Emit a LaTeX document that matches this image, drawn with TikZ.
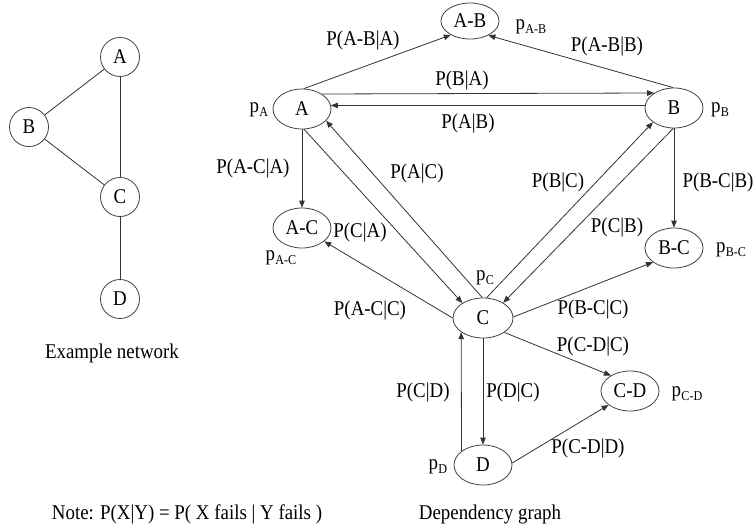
\documentclass[tikz,border=0pt]{standalone}
\usepackage{fontspec}
\setmainfont{Liberation Serif}[FakeStretch=0.9]
\usetikzlibrary{shapes.geometric,arrows.meta}
% probability of failure of an element: p with a small subscript
\newcommand\pfail[1]{p\kern0.3pt\raisebox{-0.35ex}{\fontsize{13.5}{14}\selectfont #1}}
\begin{document}
\begin{tikzpicture}[x=1pt,y=-1pt,
  font=\fontsize{21}{24}\selectfont,
  link/.style={draw=black!80,line width=0.8pt},
  netnode/.style={circle,draw=black!75,line width=0.8pt,minimum size=39pt,inner sep=0pt},
  depnode/.style={ellipse,draw=black!75,line width=0.8pt,minimum width=58pt,minimum height=40pt,inner sep=0pt},
  arr/.style={link,-{Triangle[length=7pt,width=5.5pt]}},
  lbl/.style={inner sep=0pt,text=black}]
\useasboundingbox (0,0) rectangle (756,528);

% example network
\node[netnode] (nA) at (120,57) {A};
\node[netnode] (nB) at (29,127) {B};
\node[netnode] (nC) at (120,197) {C};
\node[netnode] (nD) at (120,299) {D};
\draw[link] (nA) -- (nB);
\draw[link] (nB) -- (nC);
\draw[link] (nA) -- (nC);
\draw[link] (nC) -- (nD);
\node[lbl] (cap1) at (112,353) {Example network};

% dependency graph
\node[depnode] (A) at (302,109) {A};
\node[depnode] (B) at (674,108) {B};
\node[depnode,minimum height=36pt] (AB) at (470,21) {A-B};
\node[depnode] (AC) at (302,228) {A-C};
\node[depnode] (BC) at (674,248) {B-C};
\node[depnode,minimum width=60pt] (C) at (483,318) {C};
\node[depnode] (CD) at (630,391) {C-D};
\node[depnode] (D) at (483,465) {D};

\draw[arr] (A.85) -- (AB.216);
\draw[arr] (B.92) -- (AB.322);
\draw[arr] (A.37) -- (B.143);
\draw[arr] (B.175) -- (A.7);
\draw[arr] (A.south) -- (AC.north);
\draw[arr] (A.276) -- (C.144);
\draw[arr] (C.92) -- (A.334);
\draw[arr] (B.268) -- (C.37);
\draw[arr] (C.80) -- (B.214);
\draw[arr] (B.south) -- (BC.north);
\draw[arr] (C.180) -- (AC.329);
\draw[arr] (C.2) -- (BC.214);
\draw[arr] (C.326) -- (CD.141);
\draw[arr] (C.south) -- (D.north);
\draw[arr] (D.147) -- (C.213);
\draw[arr] (D.4) -- (CD.213);

% element failure probabilities
\node[lbl] (pA) at (259,110) {\pfail{A}};
\node[lbl] (pB) at (720,110) {\pfail{B}};
\node[lbl] (pAB) at (531,27) {\pfail{A-B}};
\node[lbl] (pAC) at (281,258) {\pfail{A-C}};
\node[lbl] (pBC) at (731,250) {\pfail{B-C}};
\node[lbl] (pC) at (485,278) {\pfail{C}};
\node[lbl] (pCD) at (687,394) {\pfail{C-D}};
\node[lbl] (pD) at (438,467) {\pfail{D}};

% conditional failure probabilities
\node[lbl] (lABA) at (363,40) {P(A-B|A)};
\node[lbl] (lABB) at (607,46) {P(A-B|B)};
\node[lbl] (lBA) at (462,80) {P(B|A)};
\node[lbl] (lAB) at (468,123) {P(A|B)};
\node[lbl] (lACA) at (253,168) {P(A-C|A)};
\node[lbl] (lAC) at (417,173) {P(A|C)};
\node[lbl] (lBC) at (558,182) {P(B|C)};
\node[lbl] (lBCB) at (718,182) {P(B-C|B)};
\node[lbl] (lCA) at (360,232) {P(C|A)};
\node[lbl] (lCB) at (617,227) {P(C|B)};
\node[lbl] (lACC) at (370,310) {P(A-C|C)};
\node[lbl] (lBCC) at (593,309) {P(B-C|C)};
\node[lbl] (lCDC) at (593,346) {P(C-D|C)};
\node[lbl] (lCD) at (423,392) {P(C|D)};
\node[lbl] (lDC) at (513,392) {P(D|C)};
\node[lbl] (lCDD) at (588,448) {P(C-D|D)};

\node[lbl] (cap2) at (490,514) {Dependency graph};
\node[lbl] (note) at (187,514) {Note: P(X|Y) = P( X fails | Y fails )};
\end{tikzpicture}
\end{document}
